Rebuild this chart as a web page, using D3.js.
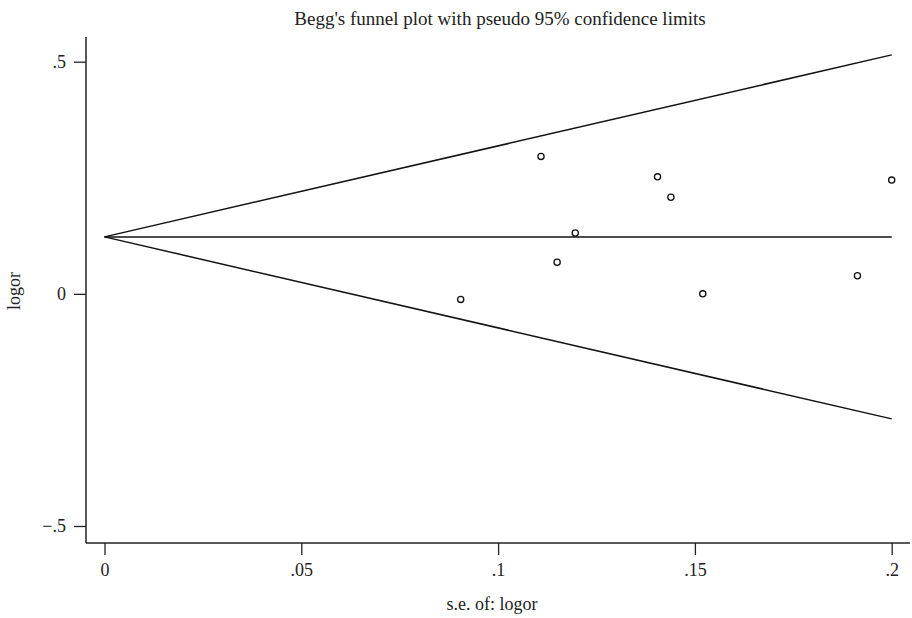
<!DOCTYPE html>
<html>
<head>
<meta charset="utf-8">
<script src="https://cdn.jsdelivr.net/npm/d3@7"></script>
<style>
  body { margin: 0; background: #fff; }
  text { font-family: "Liberation Serif", "DejaVu Serif", serif; fill: #222; }
</style>
</head>
<body>
<div id="chart"></div>
<script>
// study data (standard error, log odds ratio)
var se = [0.0905, 0.1109, 0.1150, 0.1196, 0.1405, 0.1439, 0.1520, 0.1913, 0.2000]
var logor = [-0.012, 0.296, 0.068, 0.131, 0.252, 0.208, 0.000, 0.039, 0.245]
var pooled = 0.1227
var funnelSE = [0, 0.2]
var xTicks = [0, 0.05, 0.1, 0.15, 0.2]
var xTickLabels = ["0", ".05", ".1", ".15", ".2"]
var yTicks = [-0.5, 0, 0.5]
var yTickLabels = ["\u2212.5", "0", ".5"]

var width = 912, height = 618
var plotLeft = 86, plotRight = 910, plotTop = 37, plotBottom = 543

var svg = d3.select("#chart")
  .append("svg")
  .attr("width", width)
  .attr("height", height)

var xScale = d3.scaleLinear()
  .domain([0, 0.2])
  .range([104.5, 891.7])

var yScale = d3.scaleLinear()
  .domain([-0.5, 0.5])
  .range([526, 61.7])

// axes
var xAxis = d3.axisBottom(xScale)
  .tickValues(xTicks)
  .tickFormat((d, i) => xTickLabels[i])
  .tickSize(12)
  .tickPadding(8)
  .tickSizeOuter(0)

var yAxis = d3.axisLeft(yScale)
  .tickValues(yTicks)
  .tickFormat((d, i) => yTickLabels[i])
  .tickSize(12)
  .tickPadding(8)
  .tickSizeOuter(0)

var gx = svg.append("g")
  .attr("transform", "translate(0," + plotBottom + ")")
  .call(xAxis)
gx.select(".domain").remove()
gx.append("line")
  .attr("x1", plotLeft).attr("x2", plotRight)
  .attr("stroke", "#222").attr("stroke-width", 1.5)

var gy = svg.append("g")
  .attr("transform", "translate(" + plotLeft + ",0)")
  .call(yAxis)
gy.select(".domain").remove()
gy.append("line")
  .attr("y1", plotTop).attr("y2", plotBottom)
  .attr("stroke", "#222").attr("stroke-width", 1.5)

svg.selectAll(".tick line").attr("stroke", "#222").attr("stroke-width", 1.3)
svg.selectAll(".tick text")
  .style("font-size", "18px")
  .style("font-family", "Liberation Serif, serif")
  .attr("fill", "#222")

// funnel lines
var line = d3.line()
  .x(d => xScale(d[0]))
  .y(d => yScale(d[1]))

var upper = funnelSE.map(s => [s, pooled + 1.96 * s])
var lower = funnelSE.map(s => [s, pooled - 1.96 * s])
var mid = funnelSE.map(s => [s, pooled])

;[upper, lower, mid].forEach(function(p) {
  svg.append("path")
    .datum(p)
    .attr("d", line)
    .attr("fill", "none")
    .attr("stroke", "#111")
    .attr("stroke-width", 1.5)
})

// study points
svg.selectAll(".pt")
  .data(se)
  .join("circle")
  .attr("class", "pt")
  .attr("cx", d => xScale(d))
  .attr("cy", (d, i) => yScale(logor[i]))
  .attr("r", 3.1)
  .attr("fill", "none")
  .attr("stroke", "#111")
  .attr("stroke-width", 1.3)

// titles
svg.append("text")
  .attr("x", 500)
  .attr("y", 25)
  .attr("text-anchor", "middle")
  .style("font-size", "19px")
  .text("Begg's funnel plot with pseudo 95% confidence limits")

svg.append("text")
  .attr("x", 492)
  .attr("y", 610)
  .attr("text-anchor", "middle")
  .style("font-size", "18px")
  .text("s.e. of: logor")

svg.append("text")
  .attr("transform", "translate(20,291) rotate(-90)")
  .attr("text-anchor", "middle")
  .style("font-size", "18px")
  .text("logor")
</script>
</body>
</html>
